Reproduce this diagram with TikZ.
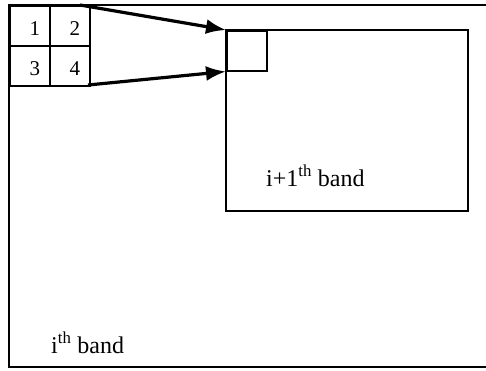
\documentclass[tikz,border=0pt]{standalone}
\usepackage{fontspec}
\setmainfont{Liberation Serif}
\usetikzlibrary{arrows.meta}
\begin{document}
\begin{tikzpicture}[x=1pt,y=-1pt,
  cell/.style={draw,line width=1.6pt,minimum size=40pt,inner sep=0pt,anchor=north west},
  digit/.style={font=\fontsize{21}{23}\selectfont,inner sep=0pt},
  bandlabel/.style={font=\fontsize{24}{27}\selectfont,inner sep=0pt,anchor=base west},
  link/.style={line width=3.2pt,-{Latex[length=20pt,width=15pt]}}]
\useasboundingbox (0,0) rectangle (486,370);
% outer band (open on the right)
\draw[line width=2.2pt] (488,5) -- (9,5) -- (9,367) -- (488,367);
% 2x2 block of the i-th band
\node[cell] (c1) at (9,5) {};
\node[cell] (c2) at (49,5) {};
\node[cell] (c3) at (9,45) {};
\node[cell] (c4) at (49,45) {};
\node[digit] (d1) at ([shift={(5,3)}]c1.center) {1};
\node[digit] (d2) at ([shift={(5,3)}]c2.center) {2};
\node[digit] (d3) at ([shift={(5,3)}]c3.center) {3};
\node[digit] (d4) at ([shift={(5,3)}]c4.center) {4};
% the (i+1)-th band and its first pixel
\draw[line width=2.4pt] (226,30) rectangle (468,211);
\node[draw,line width=1.5pt,minimum size=40pt,inner sep=0pt,anchor=north west] (sq) at (226,30) {};
\coordinate (from1) at (80,5);
\coordinate (from2) at (88,85);
\draw[link] (from1) -- (sq.north west);
\draw[link] (from2) -- (sq.south west);
% labels
\node[bandlabel] (l1) at (266,186) {i+1\textsuperscript{th} band};
\node[bandlabel] (l2) at (51,353) {i\textsuperscript{th} band};
\end{tikzpicture}
\end{document}
